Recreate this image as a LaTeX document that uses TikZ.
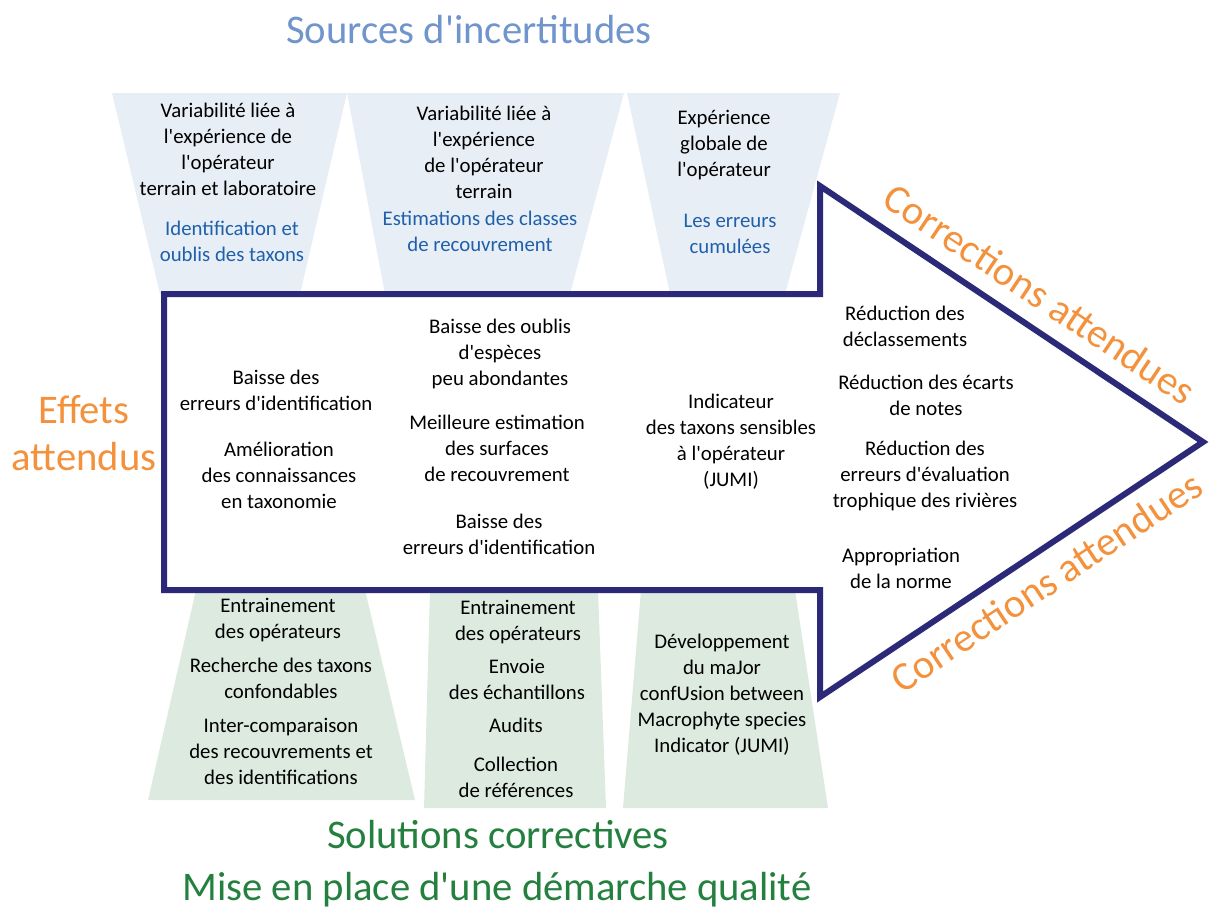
\documentclass[tikz,border=0pt]{standalone}
\usepackage{fontspec}
\setmainfont{Carlito}[Ligatures=TeXOff]
\definecolor{navy}{RGB}{44,42,120}
\definecolor{orng}{RGB}{243,145,60}
\definecolor{ttlblue}{RGB}{112,148,204}
\definecolor{txtblue}{RGB}{31,96,171}
\definecolor{grn}{RGB}{36,128,62}
\definecolor{topfill}{RGB}{232,238,245}
\definecolor{botfill}{RGB}{220,234,224}
\begin{document}
\begin{tikzpicture}[x=0.75pt,y=-0.75pt,
  txt/.style={font=\fontsize{15.6}{19.5}\selectfont, align=center, inner sep=0pt, text=black},
  btxt/.style={txt, text=txtblue},
  big/.style={font=\fontsize{30.5}{35.25}\selectfont, align=center, inner sep=0pt},
  arrowline/.style={draw=navy, line width=4.5pt, line join=miter, fill=white}]
\useasboundingbox (0,0) rectangle (1209,914);
% top trapezoids
\fill[topfill] (112,93) -- (347,93) -- (300,294) -- (160,294) -- cycle;
\fill[topfill] (347,93) -- (624,93) -- (570,294) -- (385,294) -- cycle;
\fill[topfill] (627,93) -- (840,93) -- (785,294) -- (670,294) -- cycle;
% bottom trapezoids
\fill[botfill] (196,590) -- (365,590) -- (415,800) -- (148,800) -- cycle;
\fill[botfill] (430,590) -- (598,590) -- (606,808) -- (424,808) -- cycle;
\fill[botfill] (641,590) -- (795,590) -- (828,808) -- (623,808) -- cycle;
% arrow
\path[arrowline] (164,294) -- (820,294) -- (820,186) -- (1203,442) -- (820,697) -- (820,590) -- (164,590) -- cycle;

% titles
\node[big, text=ttlblue] (src) at (469,30) {Sources d'incertitudes};
\node[big, text=orng] (eff) at (84,433) {Effets\\attendus};
\node[big, text=orng, rotate=-33.7] (corr1) at (1040,294) {Corrections attendues};
\node[big, text=orng, rotate=33.6] (corr2) at (1046,582) {Corrections attendues};
\node[big, text=grn] (sol) at (498,835) {Solutions correctives};
\node[big, text=grn] (mise) at (497,890) {Mise en place d'une démarche qualité};

% top trapezoid texts
\node[txt] (t1a) at (228,149) {Variabilité liée à\\l'expérience de\\l'opérateur\\terrain et laboratoire};
\node[btxt] (t1b) at (232,241) {Identification et\\oublis des taxons};
\node[txt] (t2a) at (484,152) {Variabilité liée à\\l'expérience\\de l'opérateur\\terrain};
\node[btxt] (t2b) at (480,231) {Estimations des classes\\de recouvrement};
\node[txt] (t3a) at (724,145) {Expérience\\globale de\\l'opérateur};
\node[btxt] (t3b) at (730,234) {Les erreurs\\cumulées};

% arrow body texts
\node[txt] (c1a) at (276,390) {Baisse des\\erreurs d'identification};
\node[txt] (c1b) at (279,475) {Amélioration\\des connaissances\\en taxonomie};
\node[txt] (c2a) at (500,354) {Baisse des oublis\\d'espèces\\peu abondantes};
\node[txt] (c2b) at (497,448) {Meilleure estimation\\des surfaces\\de recouvrement};
\node[txt] (c2c) at (499,534) {Baisse des\\erreurs d'identification};
\node[txt] (c3) at (731,442) {Indicateur\\des taxons sensibles\\à l'opérateur\\(JUMI)};
\node[txt] (c4a) at (905,326) {Réduction des\\déclassements};
\node[txt] (c4b) at (926,395) {Réduction des écarts\\de notes};
\node[txt] (c4c) at (925,476) {Réduction des\\erreurs d'évaluation\\trophique des rivières};
\node[txt] (c4d) at (901,568) {Appropriation\\de la norme};

% bottom trapezoid texts
\node[txt] (b1a) at (278,620) {Entrainement\\des opérateurs};
\node[txt] (b1b) at (281,678) {Recherche des taxons\\confondables};
\node[txt] (b1c) at (281,751) {Inter-comparaison\\des recouvrements et\\des identifications};
\node[txt] (b2a) at (518,622) {Entrainement\\des opérateurs};
\node[txt] (b2b) at (517,679) {Envoie\\des échantillons};
\node[txt] (b2c) at (516,725) {Audits};
\node[txt] (b2d) at (516,777) {Collection\\de références};
\node[txt] (b3) at (722,695) {Développement\\du maJor\\confUsion between\\Macrophyte species\\Indicator (JUMI)};
\end{tikzpicture}
\end{document}
